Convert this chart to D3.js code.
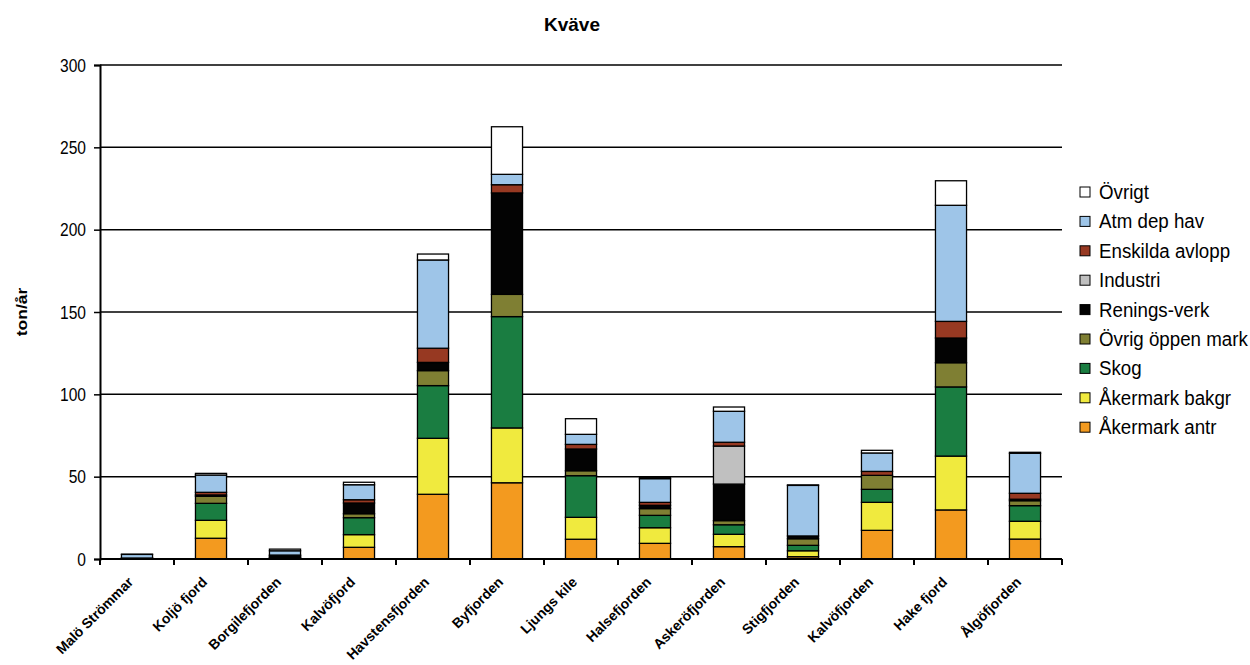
<!DOCTYPE html>
<html>
<head>
<meta charset="utf-8">
<script src="https://cdn.jsdelivr.net/npm/d3@7"></script>
<style>
  html, body { margin: 0; padding: 0; background: #fff; }
  svg { display: block; font-family: "Liberation Sans", Arial, sans-serif; }
</style>
</head>
<body>
<svg id="chart" width="1250" height="665"></svg>
<script>
// Nitrogen load per fjord (ton/år), stacked by source
const categories = ["Malö Strömmar", "Koljö fjord", "Borgilefjorden", "Kalvöfjord", "Havstensfjorden",
  "Byfjorden", "Ljungs kile", "Halsefjorden", "Askeröfjorden", "Stigfjorden", "Kalvöfjorden",
  "Hake fjord", "Ålgöfjorden"];

const seriesNames = ["Åkermark antr", "Åkermark bakgr", "Skog", "Övrig öppen mark", "Renings-verk",
  "Industri", "Enskilda avlopp", "Atm dep hav", "Övrigt"];

const akermarkAntr  = [0.1, 12.6, 0.3, 7.1, 39.3, 46.3, 12.0, 9.5, 7.5, 1.4, 17.4, 29.8, 12.1];
const akermarkBakgr = [0.1, 10.9, 0.2, 7.7, 34.0, 33.3, 13.3, 9.5, 7.5, 3.6, 17.0, 32.7, 10.8];
const skog          = [0.2, 10.3, 0.5, 10.3, 32.0, 67.6, 25.3, 7.5, 5.8, 3.3, 7.9, 42.0, 9.5];
const ovrigOppen    = [0.1, 4.3, 0.3, 2.4, 9.1, 13.5, 3.0, 4.1, 2.5, 4.0, 8.5, 14.7, 3.0];
const reningsverk   = [0.0, 0.8, 0.8, 6.5, 5.0, 61.6, 13.2, 2.0, 22.2, 1.7, 0.0, 15.0, 0.9];
const industri      = [0.0, 0.0, 0.0, 0.0, 0.0, 0.0, 0.0, 0.0, 23.1, 0.0, 0.0, 0.0, 0.0];
const enskilda      = [0.1, 1.6, 0.3, 2.0, 8.6, 5.0, 2.8, 1.8, 2.3, 0.0, 2.4, 10.1, 3.6];
const atmDepHav     = [2.2, 10.5, 2.6, 9.1, 53.6, 6.3, 6.1, 14.4, 18.8, 30.7, 11.2, 70.5, 24.3];
const ovrigt        = [0.1, 1.0, 1.0, 1.5, 3.6, 28.9, 9.5, 0.8, 2.6, 0.3, 1.6, 14.9, 0.6];

const yTicks = [0, 50, 100, 150, 200, 250, 300];

const colors = ["#F39A1F", "#F0EA3E", "#1A7D41", "#7F7F33", "#030303",
  "#C0C0C0", "#973922", "#9EC5E8", "#FFFFFF"];

const seriesValues = [akermarkAntr, akermarkBakgr, skog, ovrigOppen, reningsverk,
  industri, enskilda, atmDepHav, ovrigt];

const rows = categories.map((c, i) => {
  const r = { cat: c };
  seriesNames.forEach((s, k) => { r[s] = seriesValues[k][i]; });
  return r;
});

const stacked = d3.stack().keys(seriesNames)(rows);

const svg = d3.select("#chart");
const margin = { left: 100, right: 188, top: 65, bottom: 106 };
const W = 1250, H = 665;
const x = d3.scaleBand().domain(categories).range([margin.left, W - margin.right]).paddingInner(0.58).paddingOuter(0.29);
const y = d3.scaleLinear().domain([0, 300]).range([H - margin.bottom, margin.top]);
const color = d3.scaleOrdinal().domain(seriesNames).range(colors);

// horizontal gridlines
svg.append("g")
  .selectAll("line")
  .data(yTicks.filter(t => t > 0))
  .join("line")
  .attr("x1", margin.left).attr("x2", W - margin.right)
  .attr("y1", d => y(d)).attr("y2", d => y(d))
  .attr("stroke", "#000").attr("stroke-width", 1.5);

// stacked bars
svg.append("g")
  .selectAll("g")
  .data(stacked)
  .join("g")
  .attr("fill", d => color(d.key))
  .selectAll("rect")
  .data(d => d)
  .join("rect")
  .attr("x", d => x(d.data.cat))
  .attr("width", x.bandwidth())
  .attr("y", d => y(d[1]))
  .attr("height", d => Math.max(0, y(d[0]) - y(d[1])))
  .attr("stroke", "#000").attr("stroke-width", 1.3);

// y axis
const yAxis = svg.append("g")
  .attr("transform", `translate(${margin.left},0)`)
  .call(d3.axisLeft(y).tickValues(yTicks).tickSize(6));
yAxis.select(".domain").attr("stroke-width", 2);
yAxis.selectAll(".tick line").attr("stroke-width", 1.5);
yAxis.selectAll("text")
  .attr("x", null)
  .attr("transform", "translate(-14,0) scale(0.82,1)")
  .attr("font-size", 19).attr("fill", "#000");

// x axis with ticks on category boundaries
const xAxisG = svg.append("g").attr("transform", `translate(0,${y(0)})`);
xAxisG.append("line")
  .attr("x1", margin.left).attr("x2", W - margin.right)
  .attr("stroke", "#000").attr("stroke-width", 2);
const boundaries = d3.range(categories.length + 1).map(i => margin.left + i * x.step());
xAxisG.selectAll("line.tk")
  .data(boundaries)
  .join("line").attr("class", "tk")
  .attr("x1", d => d).attr("x2", d => d)
  .attr("y1", 0).attr("y2", 6)
  .attr("stroke", "#000").attr("stroke-width", 2);
xAxisG.selectAll("text")
  .data(categories)
  .join("text")
  .attr("transform", d => `translate(${x(d) + x.bandwidth() / 2 - 3},24) rotate(-45)`)
  .attr("text-anchor", "end")
  .attr("font-size", 14).attr("font-weight", "bold")
  .text(d => d);

// title
svg.append("text")
  .attr("x", 572).attr("y", 31)
  .attr("text-anchor", "middle")
  .attr("font-size", 19).attr("font-weight", "bold")
  .text("Kväve");

// y axis label
svg.append("text")
  .attr("transform", `translate(27,${(y(0) + y(300)) / 2}) rotate(-90) scale(1,0.82)`)
  .attr("text-anchor", "middle")
  .attr("font-size", 17.5).attr("font-weight", "bold")
  .text("ton/år");

// legend, top entry is the top of the stack
const legendItems = seriesNames.slice().reverse();
const lg = svg.append("g").attr("transform", "translate(1080,192)");
const li = lg.selectAll("g").data(legendItems).join("g")
  .attr("transform", (d, i) => `translate(0,${i * 29.4})`);
li.append("rect")
  .attr("x", 0).attr("y", -5).attr("width", 10).attr("height", 10)
  .attr("fill", d => color(d)).attr("stroke", "#000").attr("stroke-width", 1);
li.append("text")
  .attr("transform", "translate(19,7) scale(0.96,1)")
  .attr("font-size", 19.5)
  .text(d => d);
</script>
</body>
</html>
